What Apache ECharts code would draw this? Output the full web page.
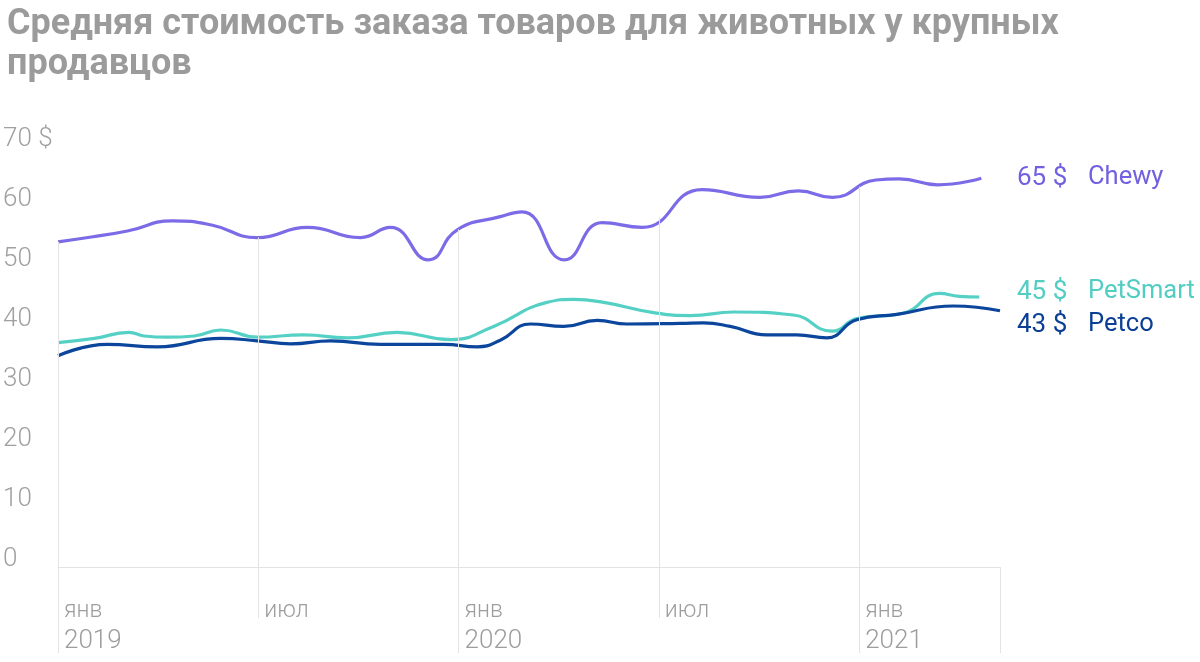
<!DOCTYPE html>
<html>
<head>
<meta charset="utf-8">
<script src="https://cdn.jsdelivr.net/npm/echarts@6/dist/echarts.min.js"></script>
<style>html,body{margin:0;padding:0;background:#fff}#c{width:1200px;height:662px}</style>
</head>
<body>
<div id="c"></div>
<script>
// x = months since Jan 2019
const chewyX = [0, 1, 2.08, 3.43, 4.6, 5.97, 7.47, 9.06, 9.96, 11.1, 11.96, 13.25, 13.9, 15.17, 16.3, 17.5, 19.29, 21.03, 22.18, 23.2, 24.5, 25.2, 26.36, 27.66];
const chewyY = [54.2, 55.0, 56.0, 57.7, 57.0, 54.9, 56.6, 54.9, 56.6, 51.2, 56.2, 58.4, 59.2, 51.2, 57.4, 56.6, 62.9, 61.6, 62.7, 61.6, 64.5, 64.7, 63.7, 64.8];

const petsmartX = [0, 1.09, 2.13, 2.58, 3.28, 4.08, 4.88, 5.97, 7.37, 8.67, 10.16, 11.76, 13.05, 14.65, 15.45, 16.35, 17.84, 18.94, 20.24, 22.03, 23.18, 23.93, 25.32, 26.41, 27.0, 27.6];
const petsmartY = [37.4, 38.1, 39.1, 38.5, 38.3, 38.5, 39.5, 38.3, 38.7, 38.2, 39.1, 37.9, 40.1, 44.1, 44.6, 44.1, 42.4, 41.9, 42.5, 42.0, 39.3, 41.4, 42.3, 45.6, 45.1, 45.0];

const petcoX = [0, 1.48, 2.98, 4.88, 5.97, 6.97, 8.17, 9.66, 11.56, 12.56, 13.25, 14.15, 15.15, 16.15, 17.05, 18.64, 19.34, 20.14, 21.23, 22.13, 23.03, 23.93, 25.13, 26.82, 28.22];
const petcoY = [35.2, 37.1, 36.7, 38.1, 37.7, 37.2, 37.7, 37.1, 37.1, 36.7, 37.8, 40.5, 40.1, 41.1, 40.5, 40.6, 40.7, 40.1, 38.7, 38.7, 38.2, 41.2, 42.1, 43.5, 42.7];

const seriesNames = ['Chewy', 'PetSmart', 'Petco'];
const endValues = ['65 $', '45 $', '43 $'];
const monthNames = ['янв', 'июл'];
const startYear = 2019;
const title = 'Средняя стоимость заказа товаров для животных у крупных\nпродавцов';

const colors = ['#7b6be6', '#55d0c5', '#0b469c'];
const labelColors = ['#7160e0', '#52cdc2', '#0b3f96'];

function pairs(xs, ys) { return xs.map((x, i) => [x, ys[i]]); }
function interp(xs, ys, t) {
  for (let i = 0; i < xs.length - 1; i++) {
    if (t >= xs[i] && t <= xs[i + 1]) {
      const f = (t - xs[i]) / (xs[i + 1] - xs[i]);
      return ys[i] + f * (ys[i + 1] - ys[i]);
    }
  }
  return ys[0];
}
const tickMonths = [0, 6, 12, 18, 24];
const gridLines = tickMonths.map(t => [{ coord: [t, 0] }, { coord: [t, interp(chewyX, chewyY, t)] }]);

const chart = echarts.init(document.getElementById('c'), null, { renderer: 'canvas' });
const xmax = 28.22;
const lineSeries = (name, data, color) => ({
  name, type: 'line', data, smooth: 0.5, showSymbol: false, symbol: 'none',
  lineStyle: { color, width: 3.2 }, z: 3, silent: true
});
const labelY = [178, 292, 325];
const graphics = [];
seriesNames.forEach((n, i) => {
  graphics.push({ type: 'text', x: 1017, y: labelY[i],
    style: { text: endValues[i], fontFamily: 'Roboto', fontSize: 26, fill: labelColors[i], verticalAlign: 'middle' } });
  graphics.push({ type: 'text', x: 1088, y: labelY[i],
    style: { text: n, fontFamily: 'Roboto', fontSize: 25.5, fill: labelColors[i], verticalAlign: 'middle' } });
});
chart.setOption({
  animation: false,
  title: {
    text: title, left: 2, top: 0,
    textStyle: { fontFamily: 'Roboto', fontWeight: 'bold', fontSize: 36, lineHeight: 40, color: '#9b9b9b' }
  },
  grid: { left: 57, right: 200, top: 147, bottom: 95 },
  xAxis: [{
    type: 'value', min: 0, max: xmax, interval: 6,
    axisLine: { show: true, lineStyle: { color: '#e3e3e3', width: 1 } },
    axisTick: { show: true, length: 51, lineStyle: { color: '#e3e3e3' } },
    splitLine: { show: false },
    axisLabel: {
      showMaxLabel: false, margin: 29, align: 'left', padding: [0, 0, 0, 6],
      formatter: v => {
        const m = Math.round(v);
        const name = monthNames[(m % 12) / 6];
        if (m % 12 === 0) return '{m|' + name + '}\n{y|' + (startYear + m / 12) + '}';
        return '{m|' + name + '}';
      },
      rich: {
        m: { fontFamily: 'Roboto', fontWeight: 300, fontSize: 23, color: '#9d9d9d', lineHeight: 30 },
        y: { fontFamily: 'Roboto', fontWeight: 300, fontSize: 26, color: '#9d9d9d', lineHeight: 30 }
      }
    }
  }, {
    type: 'value', min: 0, max: xmax, interval: 12, position: 'bottom',
    axisLine: { show: false },
    axisTick: { show: true, length: 86, lineStyle: { color: '#e3e3e3' } },
    axisLabel: { show: false }, splitLine: { show: false }
  }],
  yAxis: {
    type: 'value', min: 0, max: 70, interval: 10,
    axisLine: { show: false }, axisTick: { show: false }, splitLine: { show: false },
    axisLabel: {
      margin: 55, align: 'left', verticalAlign: 'bottom', lineHeight: 16,
      fontFamily: 'Roboto', fontWeight: 300, fontSize: 26, color: '#a0a0a0',
      formatter: v => v === 70 ? '70 $' : String(v)
    }
  },
  series: [
    {
      type: 'line', data: [], silent: true,
      markLine: {
        silent: true, symbol: 'none', label: { show: false },
        lineStyle: { color: '#e3e3e3', width: 1, type: 'solid' },
        data: gridLines
      }, z: 1
    },
    lineSeries(seriesNames[1], pairs(petsmartX, petsmartY), colors[1]),
    lineSeries(seriesNames[2], pairs(petcoX, petcoY), colors[2]),
    lineSeries(seriesNames[0], pairs(chewyX, chewyY), colors[0])
  ],
  graphic: graphics
});
</script>
</body>
</html>
